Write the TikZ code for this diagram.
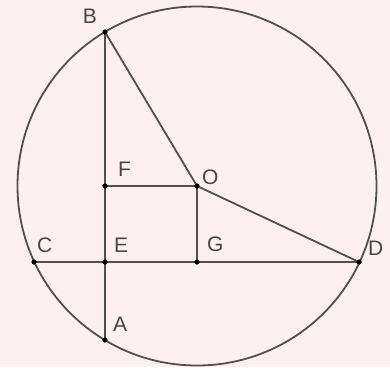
\documentclass[tikz,border=0pt]{standalone}
\usepackage{fontspec}
\setmainfont{Liberation Sans}
\usetikzlibrary{positioning}
\definecolor{bgpink}{RGB}{255,240,240}
\definecolor{lineGray}{RGB}{80,80,80}
\definecolor{labelGray}{RGB}{70,70,70}

\begin{document}
\begin{tikzpicture}[x=1pt, y=-1pt, lbl/.style={inner sep=0pt, text=labelGray, font=\fontsize{21}{21}\selectfont}]
    \fill[bgpink] (0,0) rectangle (390,367);
    \useasboundingbox (0,0) rectangle (390,367);
    \coordinate (O) at (197,186);
    \coordinate (B) at (105,32);
    \coordinate (A) at (105,340);
    \coordinate (C) at (34,262);
    \coordinate (D) at (359,262);
    \coordinate (E) at (105,262);
    \coordinate (F) at (105,186);
    \coordinate (G) at (197,262);
    \draw[lineGray, line width=1.8pt] (O) circle (179.5);
    \draw[lineGray, line width=1.8pt] (B) -- (A);
    \draw[lineGray, line width=1.8pt] (C) -- (D);
    \draw[lineGray, line width=1.8pt] (B) -- (O) -- (D);
    \draw[lineGray, line width=1.8pt] (F) -- (O) -- (G);
    \foreach \p in {A,B,C,D,E,F,G,O} \fill[black] (\p) circle (2.6);
    \node[lbl, above left=8pt and 8pt of B] (lB) {B};
    \node[lbl, above right=9pt and 13pt of F] (lF) {F};
    \node[lbl, above right=1pt and 5pt of O] (lO) {O};
    \node[lbl, above right=9pt and 3pt of C] (lC) {C};
    \node[lbl, above right=9pt and 9pt of E] (lE) {E};
    \node[lbl, above right=10pt and 10pt of G] (lG) {G};
    \node[lbl, above right=6pt and 9pt of D] (lD) {D};
    \node[lbl, above right=8pt and 8pt of A] (lA) {A};
\end{tikzpicture}
\end{document}
